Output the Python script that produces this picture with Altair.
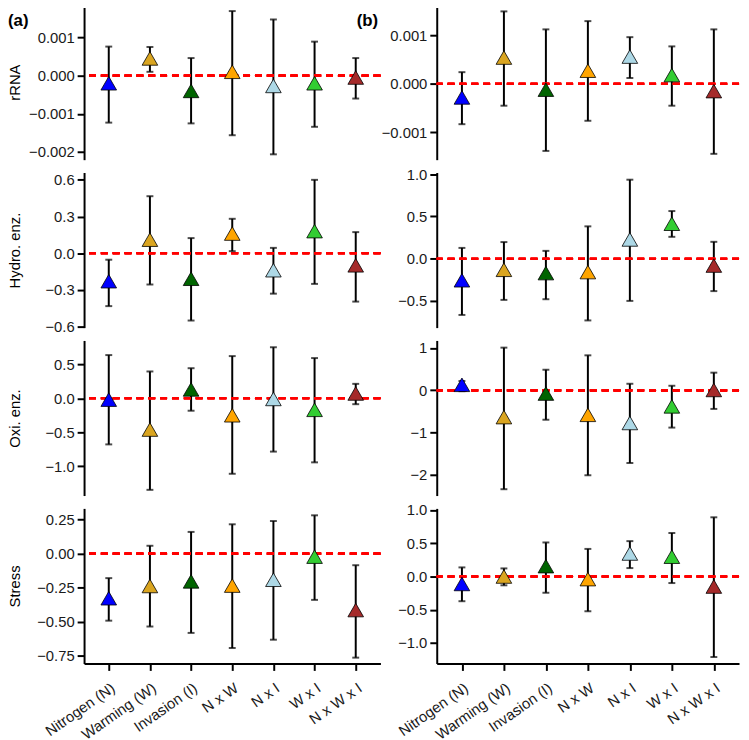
import altair as alt
import pandas as pd

categories = ["Nitrogen (N)", "Warming (W)", "Invasion (I)", "N x W", "N x I", "W x I", "N x W x I"]
colors = ["#0000FF", "#DAA520", "#006400", "#FFA500", "#ADD8E6", "#32CD32", "#A52A2A"]

# (a) column
rrna_a_est = [-0.00020, 0.00045, -0.00040, 0.00010, -0.00027, -0.00020, -0.00005]
rrna_a_lo = [-0.00123, 0.00010, -0.00125, -0.00156, -0.00206, -0.00134, -0.00060]
rrna_a_hi = [0.00076, 0.00075, 0.00046, 0.00169, 0.00147, 0.00089, 0.00046]

hydro_a_est = [-0.23, 0.11, -0.21, 0.16, -0.14, 0.18, -0.10]
hydro_a_lo = [-0.434, -0.257, -0.552, 0.016, -0.332, -0.252, -0.397]
hydro_a_hi = [-0.054, 0.466, 0.123, 0.281, 0.043, 0.600, 0.172]

oxi_a_est = [-0.02, -0.46, 0.13, -0.25, -0.01, -0.17, 0.07]
oxi_a_lo = [-0.678, -1.346, -0.183, -1.11, -0.784, -0.942, -0.087]
oxi_a_hi = [0.635, 0.394, 0.442, 0.62, 0.75, 0.591, 0.212]

stress_a_est = [-0.328, -0.238, -0.204, -0.235, -0.192, -0.022, -0.415]
stress_a_lo = [-0.493, -0.536, -0.583, -0.694, -0.633, -0.34, -0.765]
stress_a_hi = [-0.18, 0.058, 0.16, 0.216, 0.24, 0.282, -0.085]

# (b) column
rrna_b_est = [-0.00028, 0.00054, -0.00012, 0.00027, 0.00056, 0.00018, -0.00015]
rrna_b_lo = [-0.00083, -0.00045, -0.00138, -0.00076, 0.00012, -0.00045, -0.00144]
rrna_b_hi = [0.00024, 0.00149, 0.00112, 0.00129, 0.00096, 0.00077, 0.00112]

hydro_b_est = [-0.255, -0.131, -0.17, -0.158, 0.228, 0.414, -0.081]
hydro_b_lo = [-0.665, -0.487, -0.479, -0.73, -0.499, 0.259, -0.383]
hydro_b_hi = [0.128, 0.197, 0.093, 0.383, 0.935, 0.564, 0.2]

oxi_b_est = [0.13, -0.634, -0.077, -0.58, -0.773, -0.38, 0.008]
oxi_b_lo = [-0.02, -2.34, -0.696, -2.01, -1.72, -0.882, -0.44]
oxi_b_hi = [0.22, 1.01, 0.487, 0.828, 0.155, 0.108, 0.418]

stress_b_est = [-0.112, 0.0, 0.156, -0.039, 0.346, 0.298, -0.151]
stress_b_lo = [-0.371, -0.132, -0.244, -0.522, 0.127, -0.098, -1.21]
stress_b_hi = [0.137, 0.122, 0.512, 0.415, 0.532, 0.654, 0.89]

# y-axis ranges and tick labels
rrna_a_dom, rrna_b_dom = [-0.0022, 0.00186], [-0.00156, 0.00163]
hydro_a_dom, hydro_b_dom = [-0.61, 0.66], [-0.815, 1.02]
oxi_a_dom, oxi_b_dom = [-1.43, 0.85], [-2.49, 1.18]
stress_a_dom, stress_b_dom = [-0.808, 0.333], [-1.307, 1.024]

rrna_a_ticks, rrna_b_ticks = [-0.002, -0.001, 0.0, 0.001], [-0.001, 0.0, 0.001]
hydro_a_ticks, hydro_b_ticks = [-0.6, -0.3, 0.0, 0.3, 0.6], [-0.5, 0.0, 0.5, 1.0]
oxi_a_ticks, oxi_b_ticks = [-1.0, -0.5, 0.0, 0.5], [-2, -1, 0, 1]
stress_a_ticks, stress_b_ticks = [-0.75, -0.5, -0.25, 0.0, 0.25], [-1.0, -0.5, 0.0, 0.5, 1.0]

FONT = "Liberation Sans"
FS = 15


def panel(est, lo, hi, ytitle, dom, ticks, fmt, bottom, tag, W, H):
    df = pd.DataFrame({"cat": categories, "est": est, "lo": lo, "hi": hi})
    if bottom:
        xaxis = alt.Axis(title=None, labelAngle=-35, labelAlign="right", labelBaseline="top",
                         labelFontSize=15, labelColor="#1a1a1a", labelFont=FONT,
                         domainColor="black", domainWidth=2, tickColor="black",
                         tickWidth=2, tickSize=7, labelPadding=10,
                         labelOverlap=False, labelBound=False, labelFlush=False)
    else:
        xaxis = None
    x = alt.X("cat:N", sort=categories, scale=alt.Scale(type="point", padding=0.6), axis=xaxis)
    ysc = alt.Scale(domain=dom, nice=False, zero=False)
    yaxis = alt.Axis(values=ticks, tickCount=12, format=fmt, title=ytitle if ytitle else None,
                     labelFontSize=FS, labelColor="#1a1a1a", labelFont=FONT, labelPadding=3,
                     labelOverlap=False, labelBound=False, labelFlush=False,
                     titleFontSize=FS, titleFontWeight="normal", titleColor="black",
                     titleFont=FONT, titleX=-62,
                     domainColor="black", domainWidth=2, tickColor="black",
                     tickWidth=2, tickSize=7, grid=False)
    color = alt.Color("cat:N", scale=alt.Scale(domain=categories, range=colors), legend=None)

    zero = alt.Chart(df).mark_rule(color="#FF0000", strokeDash=[7, 5], strokeWidth=2.2).encode(
        y=alt.datum(0)
    )
    bars = alt.Chart(df).mark_rule(color="black", strokeWidth=2).encode(
        x=x, y=alt.Y("lo:Q", scale=ysc, axis=yaxis), y2="hi:Q"
    )
    cap_lo = alt.Chart(df).mark_tick(color="black", size=7, thickness=2).encode(
        x=x, y=alt.Y("lo:Q", scale=ysc, axis=yaxis)
    )
    cap_hi = alt.Chart(df).mark_tick(color="black", size=7, thickness=2).encode(
        x=x, y=alt.Y("hi:Q", scale=ysc, axis=yaxis)
    )
    pts = alt.Chart(df).mark_point(shape="triangle-up", filled=True, size=250, opacity=1,
                                   stroke="black", strokeWidth=0.8).encode(
        x=x, y=alt.Y("est:Q", scale=ysc, axis=yaxis), fill=color
    )
    layers = [bars, zero, cap_lo, cap_hi, pts]
    if tag:
        lab = alt.Chart(pd.DataFrame({"t": [tag]})).mark_text(
            align="left", baseline="middle", fontSize=17, fontWeight="bold", font=FONT, color="black"
        ).encode(text="t:N", x=alt.value(-77 if tag == "(a)" else -81), y=alt.value(17))
        layers.append(lab)
    return alt.layer(*layers).properties(width=W, height=H)


def build(H, WL, WR):
    charts = [
        panel(rrna_a_est, rrna_a_lo, rrna_a_hi, "rRNA", rrna_a_dom, rrna_a_ticks, ".3f", False, "(a)", WL, H),
        panel(rrna_b_est, rrna_b_lo, rrna_b_hi, None, rrna_b_dom, rrna_b_ticks, ".3f", False, "(b)", WR, H),
        panel(hydro_a_est, hydro_a_lo, hydro_a_hi, "Hydro. enz.", hydro_a_dom, hydro_a_ticks, ".1f", False, None, WL, H),
        panel(hydro_b_est, hydro_b_lo, hydro_b_hi, None, hydro_b_dom, hydro_b_ticks, ".1f", False, None, WR, H),
        panel(oxi_a_est, oxi_a_lo, oxi_a_hi, "Oxi. enz.", oxi_a_dom, oxi_a_ticks, ".1f", False, None, WL, H),
        panel(oxi_b_est, oxi_b_lo, oxi_b_hi, None, oxi_b_dom, oxi_b_ticks, "d", False, None, WR, H),
        panel(stress_a_est, stress_a_lo, stress_a_hi, "Stress", stress_a_dom, stress_a_ticks, ".2f", True, None, WL, H),
        panel(stress_b_est, stress_b_lo, stress_b_hi, None, stress_b_dom, stress_b_ticks, ".1f", True, None, WR, H),
    ]
    return alt.concat(*charts, columns=2, spacing={"row": 13, "column": 57}, bounds="flush")


try:
    chart = build(157, 300, 306).properties(
        padding={"left": 0, "top": -8, "right": 0, "bottom": 0}
    ).configure(background="white").configure_view(stroke=None)
    chart.to_dict()
except Exception:
    chart = build(155, 300, 306).properties(padding=0).configure(
        background="white").configure_view(stroke=None)

chart.save("out.html", embed_options={"renderer": "svg", "actions": False})
